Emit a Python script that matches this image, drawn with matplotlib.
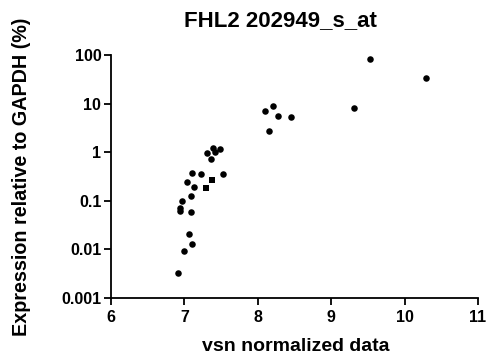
import matplotlib
matplotlib.use("Agg")
import matplotlib.pyplot as plt
from matplotlib.ticker import FixedLocator, FixedFormatter, NullLocator

plt.rcParams['font.family'] = ['Liberation Sans', 'DejaVu Sans']
plt.rcParams['font.weight'] = 'bold'

# circle-marked points
x_circ = [9.53, 10.29, 9.31, 8.10, 8.21, 8.27, 8.45, 8.15,
          7.39, 7.48, 7.31, 7.42, 7.36, 7.10, 7.23, 7.52,
          7.04, 7.13, 7.09, 6.97, 6.94, 6.94, 7.09, 7.06, 7.11, 6.99, 6.91]
y_circ = [82, 33, 8.2, 7.1, 9.1, 5.6, 5.2, 2.7,
          1.24, 1.16, 0.96, 1.0, 0.72, 0.37, 0.35, 0.35,
          0.24, 0.19, 0.126, 0.10, 0.072, 0.063, 0.060, 0.021, 0.013, 0.0091, 0.0032]
# square-marked points
x_sq = [7.37, 7.29]
y_sq = [0.27, 0.18]

yticks = [0.001, 0.01, 0.1, 1, 10, 100]
ytick_labels = ['0.001', '0.01', '0.1', '1', '10', '100']
xticks = [6, 7, 8, 9, 10, 11]

fig = plt.figure(figsize=(4.93, 3.58), dpi=100)
ax = fig.add_axes([111/493, 1-298/358, (478-111)/493, (298-55)/358])
ax.plot(x_circ, y_circ, 'o', color='black', markersize=4.7, markeredgewidth=0)
ax.plot(x_sq, y_sq, 's', color='black', markersize=4.2, markeredgewidth=0)
ax.set_yscale('log')
ax.set_xlim(6, 11)
ax.set_ylim(0.001, 100)
ax.yaxis.set_major_locator(FixedLocator(yticks))
ax.yaxis.set_major_formatter(FixedFormatter(ytick_labels))
ax.yaxis.set_minor_locator(NullLocator())
ax.set_xticks(xticks)
ax.set_xticklabels([str(v) for v in xticks])
for s in ['top', 'right']:
    ax.spines[s].set_visible(False)
for s in ['left', 'bottom']:
    ax.spines[s].set_linewidth(1.3)
ax.tick_params(axis='both', width=1.3, length=5, labelsize=11.5)
ax.tick_params(axis='x', pad=3.5)
ax.tick_params(axis='y', pad=2)
for lab in ax.get_xticklabels() + ax.get_yticklabels():
    lab.set_fontweight('bold')
fig.text(296/493, 1-351/358, 'vsn normalized data', ha='center', va='baseline',
         fontsize=14, fontweight='bold')
fig.text(22/493, 1-176.5/358, 'Expression relative to GAPDH (%)', ha='center', va='center',
         rotation=90, fontsize=14.2, fontweight='bold')
fig.text(280/493, 1-26/358, 'FHL2 202949_s_at', ha='center', va='baseline',
         fontsize=16, fontweight='bold')
fig.savefig('out.png', dpi=100)
